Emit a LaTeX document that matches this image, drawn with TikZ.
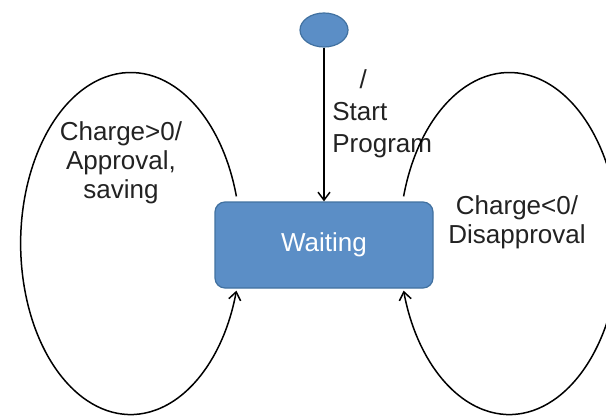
\documentclass[tikz,border=0pt]{standalone}
\usepackage{fontspec}
\setmainfont{Liberation Sans}
\usetikzlibrary{arrows.meta,shapes.geometric}
\definecolor{stateblue}{RGB}{91,142,198}
\definecolor{stateedge}{RGB}{65,113,160}
\definecolor{guardtext}{RGB}{34,34,34}
\tikzset{
	state/.style={shape=rectangle, rounded corners=5pt, fill=stateblue, draw=stateedge, line width=0.6pt, minimum width=109pt, minimum height=43pt, text=white, font=\fontsize{13pt}{15pt}\selectfont},
	startdot/.style={shape=ellipse, fill=stateblue, draw=stateedge, line width=0.6pt, minimum width=24pt, minimum height=17pt, inner sep=0pt},
	trans/.style={line width=0.75pt, -{Straight Barb[length=4pt,width=6pt]}},
	guard/.style={inner sep=0pt, text=guardtext, font=\fontsize{13pt}{14.5pt}\selectfont}
}
\begin{document}
\begin{tikzpicture}[x=0.5pt, y=0.5pt]
	\useasboundingbox (0, 0) rectangle (606, 419);
	
	\node[startdot] (start) at (324, 389)     {};
	\node[state] (wait) at (324, 174)     {Waiting};
	\node[guard, anchor=north west, align=left, font=\fontsize{13pt}{16pt}\selectfont] (startlbl) at (332, 350)     {\hspace*{1.05em}/\\Start\\Program};
	\node[guard, align=center] (poslbl) at (121, 256)     {Charge>0/\\Approval,\\saving};
	\node[guard, align=center] (neglbl) at (517, 197)     {Charge<0/\\Disapproval};
	
	\path[trans] (start) edge (wait);
	\draw[trans] ([shift={(11pt,2.5pt)}]wait.north west) arc[start angle=16, end angle=344, x radius=55pt, y radius=85.5pt];
	\draw[trans] ([shift={(-15pt,2.5pt)}]wait.north east) arc[start angle=164, end angle=-164, x radius=55pt, y radius=85.5pt];
\end{tikzpicture}
\end{document}
